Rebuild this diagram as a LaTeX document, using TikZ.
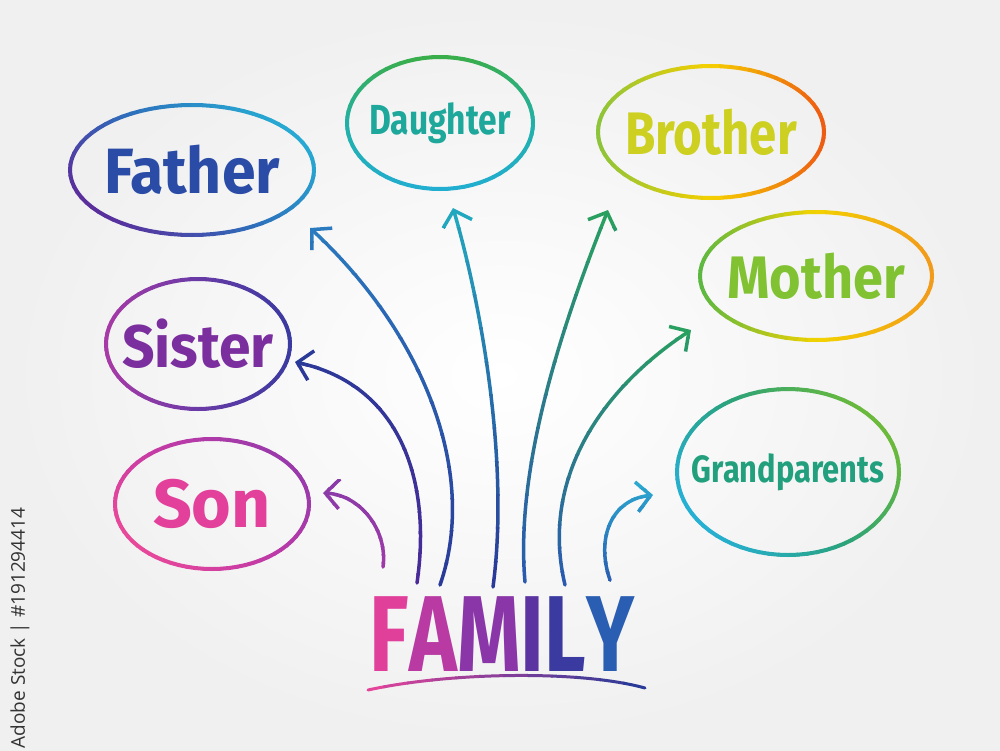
\documentclass[tikz,border=0pt]{standalone}
\usepackage{fontspec}
\usepackage{graphicx}
\setmainfont{Fira Sans}
\newfontfamily\credfont{Open Sans}
\usetikzlibrary{arrows.meta,shapes.geometric,calc}

\definecolor{fatherA}{HTML}{27AAD3}\definecolor{fatherM}{HTML}{2D6FBB}\definecolor{fatherB}{HTML}{5A2E9C}
\definecolor{daughA}{HTML}{3AAE4A}\definecolor{daughM}{HTML}{22B0A8}\definecolor{daughB}{HTML}{22AED0}
\definecolor{broA}{HTML}{EE5A12}\definecolor{broM}{HTML}{F5D000}\definecolor{broB}{HTML}{8CC43A}
\definecolor{motA}{HTML}{F29A1A}\definecolor{motM}{HTML}{F2D200}\definecolor{motB}{HTML}{5CB842}
\definecolor{sisA}{HTML}{3A3AA0}\definecolor{sisM}{HTML}{6A3AA6}\definecolor{sisB}{HTML}{A83AA6}
\definecolor{sonA}{HTML}{9A3AAA}\definecolor{sonM}{HTML}{C23AA6}\definecolor{sonB}{HTML}{E8489A}
\definecolor{grA}{HTML}{6CBA3A}\definecolor{grM}{HTML}{2AA27A}\definecolor{grB}{HTML}{26B0D4}

\definecolor{tFather}{HTML}{2A4CA6}
\definecolor{tDaughter}{HTML}{1EA89C}
\definecolor{tBrother}{HTML}{CDD020}
\definecolor{tMother}{HTML}{80C232}
\definecolor{tSister}{HTML}{7B2E9E}
\definecolor{tSon}{HTML}{E2409A}
\definecolor{tGrand}{HTML}{22A07E}

\definecolor{fF}{HTML}{E0409A}\definecolor{fA}{HTML}{B83AA2}\definecolor{fM}{HTML}{8A36A8}
\definecolor{fI}{HTML}{5C34A2}\definecolor{fL}{HTML}{3A3AA0}\definecolor{fY}{HTML}{2A5EB2}

\definecolor{cPurple}{HTML}{8A3AA8}\definecolor{cPurple2}{HTML}{A03AA8}
\definecolor{cNavy}{HTML}{2A3A98}\definecolor{cNavy2}{HTML}{4A2A98}
\definecolor{cBlue}{HTML}{2A7AC0}
\definecolor{cTeal}{HTML}{22A8BE}
\definecolor{cGreen}{HTML}{2AA060}
\definecolor{cCyan}{HTML}{2AA8D0}
\definecolor{cBlue2}{HTML}{2A5AB0}
\definecolor{cPink}{HTML}{E4449A}

\newcommand{\hw}[3]{\fontsize{#1}{#1}\selectfont\scalebox{#2}[1]{#3}}

% gradient ring: center, rx, ry, colA, colM, colB, offset angle
\newcommand{\gradring}[7]{%
 \foreach \a in {0,5,...,355}{%
   \pgfmathsetmacro{\cc}{cos(\a+2.5-#7)}%
   \pgfmathtruncatemacro{\p}{abs(\cc)*100}%
   \pgfmathtruncatemacro{\s}{\cc>=0 ? 1 : 0}%
   \ifnum\s=1 \def\rc{#4!\p!#5}\else \def\rc{#6!\p!#5}\fi
   \draw[ring, color=\rc] ($(#1)+(\a:#2 and #3)$) -- ($(#1)+(\a+5:#2 and #3)$);
 }}

% vertically graded arrow: ytop, ybottom, coltop, colbottom, path
\newcommand{\vgarrow}[5]{%
 \foreach \k in {0,...,11}{%
  \pgfmathsetmacro{\ya}{#1+(#2-#1)*\k/12-0.6}%
  \pgfmathsetmacro{\yb}{#1+(#2-#1)*(\k+1)/12+0.6}%
  \pgfmathtruncatemacro{\p}{100-\k*100/11}%
  \begin{scope}
   \clip (0,\ya) rectangle (1000,\yb);
   \draw[arr, color=#3!\p!#4] #5;
  \end{scope}}}

\begin{document}
\begin{tikzpicture}[x=1pt,y=-1pt,
  bub/.style={ellipse, inner sep=0pt, font=\bfseries},
  ring/.style={line width=4, line cap=round},
  arr/.style={line width=3.5, line cap=round, line join=round, -{Straight Barb[length=14pt,width=30pt]}},
  cred/.style={font=\credfont\fontsize{19}{19}\selectfont, text=black!80}]
\useasboundingbox (0,0) rectangle (1000,750);
\shade[inner color=white, outer color=black!6] (0,0) rectangle (1000,750);

% bubbles
\node[bub, minimum width=244, minimum height=130, text=tFather] (father) at (192,170) {\hw{64}{0.95}{Father}};
\node[bub, minimum width=186, minimum height=132, text=tDaughter] (daughter) at (440,123) {\hw{42}{0.8}{Daughter}};
\node[bub, minimum width=226, minimum height=132, text=tBrother] (brother) at (711,132) {\hw{60}{0.82}{Brother}};
\node[bub, minimum width=232, minimum height=128, text=tMother] (mother) at (816,276) {\hw{60}{0.9}{Mother}};
\node[bub, minimum width=184, minimum height=130, text=tSister] (sister) at (198,344) {\hw{60}{0.95}{Sister}};
\node[bub, minimum width=194, minimum height=130, text=tSon] (son) at (212,504) {\hw{68}{1}{Son}};
\node[bub, minimum width=222, minimum height=166, text=tGrand] (grand) at (788,472) {\hw{38}{0.81}{Grandparents}};

\gradring{father}{122}{65}{fatherA}{fatherM}{fatherB}{330}
\gradring{daughter}{93}{66}{daughA}{daughM}{daughB}{270}
\gradring{brother}{113}{66}{broA}{broM}{broB}{0}
\gradring{mother}{116}{64}{motA}{motM}{motB}{0}
\gradring{sister}{92}{65}{sisA}{sisM}{sisB}{0}
\gradring{son}{97}{65}{sonA}{sonM}{sonB}{330}
\gradring{grand}{111}{83}{grA}{grM}{grB}{330}

% central word
\node[font=\bfseries] (family) at (502,634) {\hw{108}{0.75}{\textcolor{fF}{F}\textcolor{fA}{A}\textcolor{fM}{M}\textcolor{fI}{I}\textcolor{fL}{L}\textcolor{fY}{Y}}};
\coordinate (ul1) at (368,690);
\coordinate (ul2) at (645,688);
\foreach \k in {0,...,11}{%
  \pgfmathsetmacro{\xa}{360+\k*24-0.6}%
  \pgfmathsetmacro{\xb}{360+(\k+1)*24+0.6}%
  \pgfmathtruncatemacro{\p}{100-\k*100/11}%
  \begin{scope}
   \clip (\xa,660) rectangle (\xb,700);
   \draw[line width=3, line cap=round, color=cPink!\p!cNavy] (ul1) .. controls (450,672) and (580,670) .. (ul2);
  \end{scope}}

% arrow coordinates
\coordinate (s1) at (383,567); \coordinate (e1) at (323,493);
\coordinate (s2) at (417,583); \coordinate (e2) at (295,362);
\coordinate (s3) at (440,585); \coordinate (e3) at (310,228);
\coordinate (s4) at (493,587); \coordinate (e4) at (453,208);
\coordinate (s5) at (525,582); \coordinate (e5) at (608,210);
\coordinate (s6) at (565,585); \coordinate (e6) at (691,330);
\coordinate (s7) at (610,580); \coordinate (e7) at (653,495);

\vgarrow{480}{580}{cPurple}{cPurple2}{(s1) .. controls (388,530) and (360,495) .. (e1)}
\vgarrow{345}{595}{cNavy}{cNavy2}{(s2) .. controls (432,480) and (400,385) .. (e2)}
\vgarrow{210}{595}{cBlue}{cNavy}{(s3) .. controls (480,470) and (420,330) .. (e3)}
\vgarrow{195}{595}{cTeal}{cNavy}{(s4) .. controls (510,460) and (480,300) .. (e4)}
\vgarrow{195}{595}{cGreen}{cBlue2}{(s5) .. controls (515,470) and (560,330) .. (e5)}
\vgarrow{315}{595}{cGreen}{cBlue2}{(s6) .. controls (540,480) and (600,390) .. (e6)}
\vgarrow{480}{590}{cCyan}{cBlue2}{(s7) .. controls (596,540) and (610,500) .. (e7)}

\node[cred, rotate=90] (credit) at (20,628) {Adobe Stock | \#191294414};
\end{tikzpicture}
\end{document}
